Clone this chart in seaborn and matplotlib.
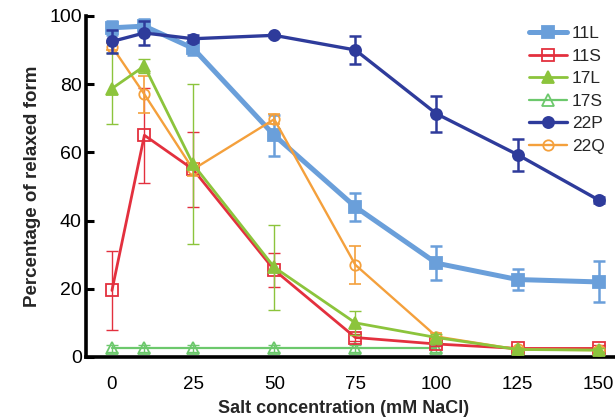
import numpy as np
import pandas as pd
import matplotlib
matplotlib.use("Agg")
import matplotlib.pyplot as plt
import seaborn as sns

conc = [0, 10, 25, 50, 75, 100, 125, 150]
conc_17S = [0, 10, 25, 50, 75, 100]

v11L = [96.5, 97.0, 90.5, 65.0, 44.0, 27.5, 22.7, 22.0]
e11L = [2.0, 2.0, 2.0, 6.0, 4.0, 5.0, 3.0, 6.0]
v11S = [19.5, 65.0, 55.0, 25.5, 5.7, 3.8, 2.5, 2.5]
e11S = [11.5, 14.0, 11.0, 5.0, 1.0, 0.5, 0.5, 1.0]
v17L = [78.7, 85.3, 56.5, 26.3, 10.0, 5.7, 2.2, 2.0]
e17L = [10.5, 2.0, 23.5, 12.5, 3.5, 1.0, 0.5, 0.5]
v17S = [2.5, 2.5, 2.5, 2.5, 2.5, 2.5]
e17S = [1.0, 1.0, 1.0, 1.0, 1.0, 1.0]
v22P = [92.5, 95.0, 93.3, 94.3, 90.0, 71.3, 59.3, 46.0]
e22P = [3.5, 3.5, 1.0, 0.5, 4.0, 5.3, 4.7, 1.0]
v22Q = [91.0, 77.0, 55.0, 69.7, 27.0, 6.0, 2.2, 2.0]
e22Q = [1.0, 5.5, 2.0, 1.5, 5.5, 1.0, 0.5, 0.5]

sns.set_theme(style="white")
plt.rcParams['font.family'] = ['Liberation Sans', 'DejaVu Sans']

fig = plt.figure(figsize=(6.15, 4.18), dpi=100)
ax = fig.add_axes([0.1398, 0.146, 0.8602, 0.816])

series = [
    # label, x, y, err, color, marker, ms, mfc, lw, elw, z
    ("11L", conc, v11L, e11L, "#6a9fda", "s", 8.5, "#6a9fda", 3.6, 1.8, 3),
    ("11S", conc, v11S, e11S, "#e3303e", "s", 8.0, "none", 2.0, 1.0, 4),
    ("17L", conc, v17L, e17L, "#8cc43c", "^", 9.0, "#8cc43c", 2.0, 1.0, 5),
    ("17S", conc_17S, v17S, e17S, "#6cc86c", "^", 8.0, "none", 1.6, 1.0, 2),
    ("22P", conc, v22P, e22P, "#2e3b9b", "o", 8.0, "#2e3b9b", 2.4, 1.8, 6),
    ("22Q", conc, v22Q, e22Q, "#f4a03c", "o", 7.5, "none", 1.7, 1.2, 4.5),
]

for lab, xs, ys, es, col, mk, ms, mfc, lw, elw, z in series:
    ax.errorbar(xs, ys, yerr=es, fmt="none", ecolor=col, elinewidth=elw,
                capsize=4, capthick=elw, zorder=z)
    sns.lineplot(x=xs, y=ys, ax=ax, color=col, marker=mk, markersize=ms,
                 markerfacecolor=mfc, markeredgecolor=col, markeredgewidth=1.3,
                 linewidth=lw, label=lab, zorder=z + 0.1)

ax.set_xlim(-8, 155)
ax.set_ylim(0, 100)
ax.set_xticks([0, 25, 50, 75, 100, 125, 150])
ax.set_yticks([0, 20, 40, 60, 80, 100])
ax.tick_params(axis="y", direction="in", length=6, width=2.2, labelsize=14,
               pad=3, left=True, colors="black")
ax.tick_params(axis="x", length=0, labelsize=13.5, pad=14, colors="black")

for s in ["top", "right"]:
    ax.spines[s].set_visible(False)
for s in ["left", "bottom"]:
    ax.spines[s].set_linewidth(2.6)
    ax.spines[s].set_color("black")

ax.set_xlabel("Salt concentration (mM NaCl)", fontsize=13, fontweight="bold",
              labelpad=4)
ax.set_ylabel("Percentage of relaxed form", fontsize=13.5, fontweight="bold",
              labelpad=6)
ax.xaxis.set_label_coords(0.486, -0.125)

leg = ax.legend(loc="upper right", bbox_to_anchor=(1.0, 1.0), frameon=False,
                fontsize=12.5, handlelength=2.2, handletextpad=0.25,
                labelspacing=0.42, borderaxespad=0.2)

fig.savefig("out.png", dpi=100)
